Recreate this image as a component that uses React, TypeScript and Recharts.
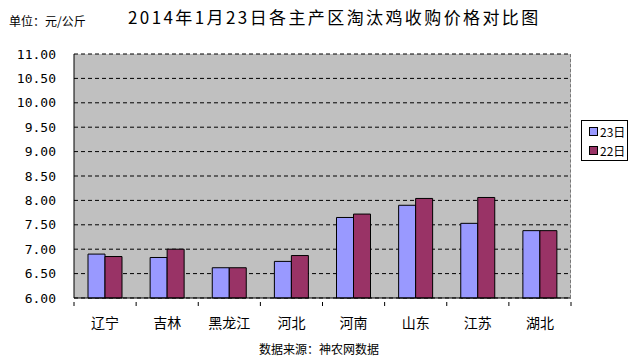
import { Bar, BarChart, CartesianGrid, XAxis, YAxis } from 'recharts'

const regions = ['辽宁', '吉林', '黑龙江', '河北', '河南', '山东', '江苏', '湖北']
const price23 = [6.9, 6.83, 6.62, 6.75, 7.65, 7.9, 7.53, 7.38]
const price22 = [6.85, 7.0, 6.62, 6.87, 7.72, 8.04, 8.06, 7.38]
const yTicks = [6, 6.5, 7, 7.5, 8, 8.5, 9, 9.5, 10, 10.5, 11]

const rows = regions.map((name, i) => ({ name, d23: price23[i], d22: price22[i] }))

const cjk = '"Noto Sans CJK SC", "Noto Sans", sans-serif'

function RegionTick({ x, y, payload }: any) {
  const half = payload?.offset ?? 31
  return (
    <g>
      <line x1={x - half} x2={x - half} y1={y} y2={y - 4} stroke="#000" />
      {payload.index === regions.length - 1 && (
        <line x1={x + half} x2={x + half} y1={y} y2={y - 4} stroke="#000" />
      )}
      <text x={x} y={y + 22} textAnchor="middle" fontSize={14} fill="#000" fontFamily={cjk}>
        {payload.value}
      </text>
    </g>
  )
}

export default function App() {
  return (
    <div style={{ position: 'fixed', left: 0, top: 0, width: 638, height: 358, background: '#fff', fontFamily: cjk }}>
      <div style={{ position: 'absolute', left: 9, top: 12, fontSize: 12 }}>单位：元/公斤</div>
      <div style={{ position: 'absolute', left: 128, top: 4, fontSize: 17, letterSpacing: 2.4, fontFamily: '"Noto Sans CJK SC", serif' }}>
        2014年1月23日各主产区淘汰鸡收购价格对比图
      </div>
      <BarChart
        width={638}
        height={358}
        data={rows}
        margin={{ top: 54, right: 67, bottom: 0, left: 0 }}
        barSize={17}
        barGap={0}
      >
        <CartesianGrid fill="#c0c0c0" stroke="#000" strokeDasharray="4 3" vertical={false} horizontalValues={yTicks} />
        <XAxis
          dataKey="name"
          height={60}
          tickLine={false}
          axisLine={{ stroke: '#000' }}
          tick={<RegionTick />}
          interval={0}
        />
        <YAxis
          width={74}
          domain={[6, 11]}
          ticks={yTicks}
          tickFormatter={(v: number) => v.toFixed(2)}
          tickLine={false}
          tickSize={0}
          tickMargin={18}
          axisLine={{ stroke: '#000' }}
          tick={{ fontSize: 13, fill: '#000', fontFamily: '"DejaVu Sans Mono", monospace' }}
          interval={0}
        />
        <Bar dataKey="d23" name="23日" fill="#9999ff" stroke="#000" strokeWidth={1} isAnimationActive={false} />
        <Bar dataKey="d22" name="22日" fill="#993366" stroke="#000" strokeWidth={1} isAnimationActive={false} />
      </BarChart>
      <div style={{ position: 'absolute', left: 570, top: 54, width: 0, height: 244, borderLeft: '1px dashed #777' }} />
      <div
        style={{
          position: 'absolute',
          left: 581,
          top: 120,
          width: 47,
          height: 41,
          border: '1px solid #000',
          fontSize: 12,
          boxSizing: 'border-box',
        }}
      >
        <div style={{ display: 'flex', alignItems: 'center', marginTop: 2, marginLeft: 7 }}>
          <span style={{ width: 7, height: 7, background: '#9999ff', border: '1px solid #000', marginRight: 2 }} />
          23日
        </div>
        <div style={{ display: 'flex', alignItems: 'center', marginTop: 2, marginLeft: 7 }}>
          <span style={{ width: 7, height: 7, background: '#993366', border: '1px solid #000', marginRight: 2 }} />
          22日
        </div>
      </div>
      <div style={{ position: 'absolute', left: 0, width: 638, top: 340, textAlign: 'center', fontSize: 12 }}>
        数据来源：神农网数据
      </div>
    </div>
  )
}
